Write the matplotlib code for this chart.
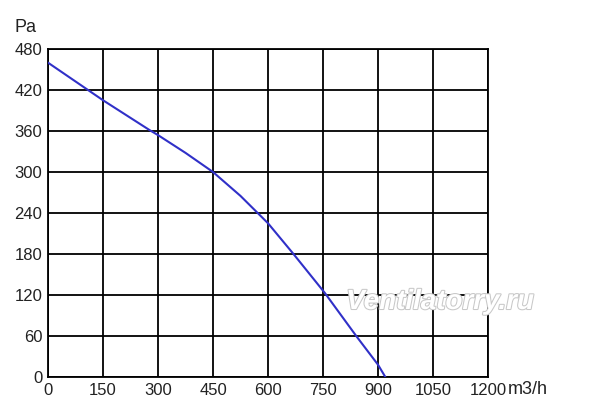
import matplotlib.pyplot as plt
import matplotlib.patheffects as pe

plt.rcParams['font.family'] = ['Liberation Sans', 'DejaVu Sans']

# fan curve
flow = [0, 150, 278, 300, 375, 450, 525, 600, 668, 755, 842, 900, 920]
pressure = [460, 405, 361, 354, 328, 300, 265, 225, 181, 123, 59, 18, 0]

x_ticks = [0, 150, 300, 450, 600, 750, 900, 1050, 1200]
y_ticks = [0, 60, 120, 180, 240, 300, 360, 420, 480]

fig = plt.figure(figsize=(6, 4.12), dpi=100)
ax = fig.add_axes([48 / 600, 35 / 412, 440 / 600, 328 / 412])

ax.plot(flow, pressure, color="#3030c8", lw=1.5, zorder=3)

ax.set_xlim(0, 1200)
ax.set_ylim(0, 480)
ax.set_xticks(x_ticks)
ax.set_yticks(y_ticks)
ax.grid(True, color="black", lw=1.3)
for s in ax.spines.values():
    s.set_linewidth(1.3)
ax.tick_params(length=0, labelsize=12, colors="#222222", pad=4)

fig.text(15 / 600, 1 - 27 / 412, "Pa", fontsize=13, color="#222222", va="center")
fig.text(508 / 600, 1 - 389 / 412, "m3/h", fontsize=13, color="#222222", va="center")

fig.text(440 / 600, 1 - 302 / 412, "Ventilatorry.ru", fontsize=20, style="italic",
         weight="bold", color="white", ha="center", va="center", zorder=5,
         path_effects=[pe.withStroke(linewidth=1.5, foreground="#c8c8c8")])

fig.savefig("out.png", dpi=100)
